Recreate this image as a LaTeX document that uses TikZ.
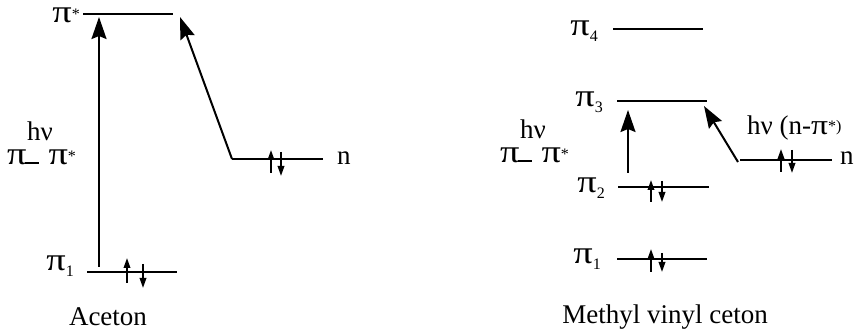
\documentclass[tikz,border=0pt]{standalone}
\usepackage{fontspec}
\setmainfont{Liberation Serif}
\usetikzlibrary{arrows.meta}

\newcommand{\bigpi}{\scalebox{1.2}[1]{\fontsize{32}{32}\selectfont π}}
\newcommand{\sst}{\raisebox{3pt}{\fontsize{16}{16}\selectfont *}}
\newcommand{\subn}[1]{\raisebox{-6pt}{\fontsize{16}{16}\selectfont #1}}

\begin{document}
\begin{tikzpicture}[x=1pt, y=-1pt, font=\fontsize{27}{30}\selectfont,
  lvl/.style={line width=1.7pt},
  exc/.style={line width=2pt, -{Stealth[length=22pt, width=15pt, inset=3pt]}},
  spin/.style={line width=1.8pt, -{Triangle[length=10pt, width=6.5pt]}},
  lbl/.style={inner sep=0pt}]
  \useasboundingbox (0,0) rectangle (855,331);

  % Aceton
  \coordinate (ps-a) at (83,14);   \coordinate (ps-b) at (173,14);
  \coordinate (p1-a) at (87,272);  \coordinate (p1-b) at (177,272);
  \coordinate (n-a)  at (232,159); \coordinate (n-b)  at (323,159);
  \coordinate (up-s) at (99,267);  \coordinate (up-t) at (99,17);
  \coordinate (dg-t) at (180,17);
  \draw[lvl] (ps-a) -- (ps-b);
  \draw[lvl] (p1-a) -- (p1-b);
  \draw[lvl] (n-a) -- (n-b);
  \draw[exc] (up-s) -- (up-t);
  \draw[exc] (n-a) -- (dg-t);
  \draw[spin] (127,283) -- (127,258);
  \draw[spin] (143,264) -- (143,288);
  \draw[spin] (271,173) -- (271,150);
  \draw[spin] (281,152) -- (281,176);
  \node[lbl, anchor=base east] (l-ps) at (80,23) {\bigpi\sst};
  \node[lbl, anchor=base east] (l-p1) at (74,271) {\bigpi\subn{1}};
  \node[lbl, anchor=base west] (l-n) at (337,165) {n};
  \node[lbl, anchor=base] (l-hv) at (40,141) {hν};
  \node[lbl, anchor=base west] (l-pp) at (7,165)
    {\bigpi\hspace{-2pt}\rule[1pt]{14pt}{1.5pt}\hspace{10pt}\bigpi\sst};
  \node[lbl, anchor=base] (t-ac) at (108,326) {Aceton};

  % Methyl vinyl ceton
  \coordinate (q4-a) at (613,29);  \coordinate (q4-b) at (703,29);
  \coordinate (q3-a) at (617,101); \coordinate (q3-b) at (707,101);
  \coordinate (q2-a) at (618,187); \coordinate (q2-b) at (709,187);
  \coordinate (q1-a) at (617,259); \coordinate (q1-b) at (707,259);
  \coordinate (m-a)  at (740,160); \coordinate (m-b)  at (832,160);
  \coordinate (vu-s) at (628,173); \coordinate (vu-t) at (628,110);
  \coordinate (vd-s) at (738,162); \coordinate (vd-t) at (704,106);
  \draw[lvl] (q4-a) -- (q4-b);
  \draw[lvl] (q3-a) -- (q3-b);
  \draw[lvl] (q2-a) -- (q2-b);
  \draw[lvl] (q1-a) -- (q1-b);
  \draw[lvl] (m-a) -- (m-b);
  \draw[exc] (vu-s) -- (vu-t);
  \draw[exc] (vd-s) -- (vd-t);
  \draw[spin] (651,202) -- (651,180);
  \draw[spin] (662,181) -- (662,202);
  \draw[spin] (651,272) -- (651,249);
  \draw[spin] (662,253) -- (662,272);
  \draw[spin] (781,172) -- (781,149);
  \draw[spin] (792,150) -- (792,173);
  \node[lbl, anchor=base east] (r-p4) at (598,36) {\bigpi\subn{4}};
  \node[lbl, anchor=base east] (r-p3) at (603,107) {\bigpi\subn{3}};
  \node[lbl, anchor=base east] (r-p2) at (605,193) {\bigpi\subn{2}};
  \node[lbl, anchor=base east] (r-p1) at (601,264) {\bigpi\subn{1}};
  \node[lbl, anchor=base west] (r-n) at (840,165) {n};
  \node[lbl, anchor=base] (r-hv) at (533,139) {hν};
  \node[lbl, anchor=base west] (r-pp) at (500,163)
    {\bigpi\hspace{-2pt}\rule[1pt]{14pt}{1.5pt}\hspace{10pt}\bigpi\sst};
  \node[lbl, anchor=base west] (r-hn) at (747,135)
    {hν (n-\scalebox{1.2}[1]{\fontsize{28}{28}\selectfont π}\raisebox{3pt}{\fontsize{16}{16}\selectfont *)}};
  \node[lbl, anchor=base] (t-mv) at (665,324) {Methyl vinyl ceton};
\end{tikzpicture}
\end{document}
